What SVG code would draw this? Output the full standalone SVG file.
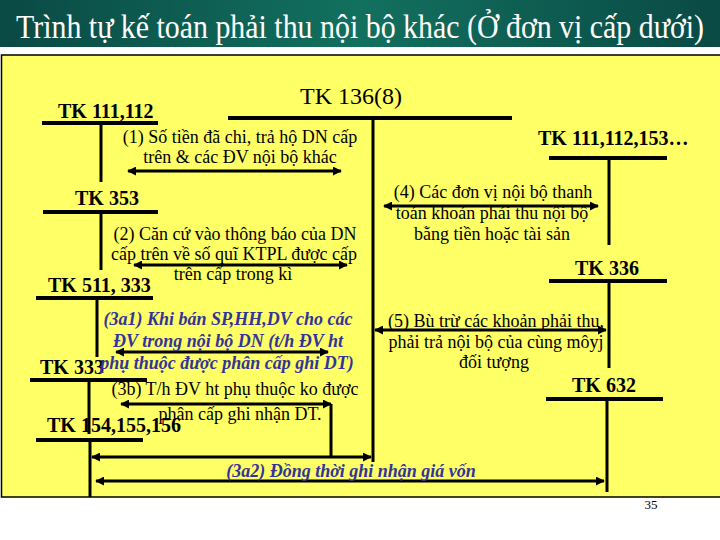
<svg xmlns="http://www.w3.org/2000/svg" width="720" height="540" viewBox="0 0 720 540">
<defs>
<linearGradient id="tb" x1="0" y1="0" x2="1" y2="0">
<stop offset="0" stop-color="#0a4a44"/>
<stop offset="0.5" stop-color="#12705f"/>
<stop offset="1" stop-color="#0a4a44"/>
</linearGradient>
<marker id="ah" viewBox="0 0 10 10" refX="9" refY="5" markerWidth="3" markerHeight="3" orient="auto-start-reverse" markerUnits="strokeWidth">
<path d="M0,0 L10,5 L0,10 z" fill="#000"/>
</marker>
<style>
.bar{stroke:#000;stroke-width:4;fill:none}
.vl{stroke:#000;stroke-width:3;fill:none}
.ar{stroke:#000;stroke-width:3;fill:none;marker-start:url(#ah);marker-end:url(#ah)}
text{font-family:'Liberation Serif','Times New Roman',serif}
.tk{font-weight:bold;font-size:20px;fill:#000}
.lb{font-size:18px;fill:#000;text-anchor:middle}
.it{font-size:18px;font-weight:bold;font-style:italic;fill:#333399;text-anchor:middle}
</style>
</defs>
<rect x="0" y="0" width="720" height="540" fill="#fff"/>
<rect x="0" y="0" width="720" height="47" fill="url(#tb)"/>
<text transform="translate(16,38) scale(0.8,1)" x="0" y="0" font-size="34" fill="#fff" textLength="860" lengthAdjust="spacingAndGlyphs">Trình tự kế toán phải thu nội bộ khác (Ở đơn vị cấp dưới)</text>
<rect x="1.5" y="55" width="722" height="442" fill="#ffff66" stroke="#000" stroke-width="1.5"/>

<g id="tk111">
<text class="tk" x="58" y="118">TK 111,112</text>
<line class="bar" x1="42" y1="123" x2="158" y2="123"/>
<line class="vl" x1="101" y1="123" x2="101" y2="182"/>
</g>
<g id="tk136">
<text x="300" y="104" font-size="24" fill="#000">TK 136(8)</text>
<line class="bar" x1="228" y1="118" x2="512" y2="118"/>
<line class="vl" x1="373" y1="118" x2="373" y2="462"/>
</g>
<g id="tk111b">
<text class="tk" x="538" y="145">TK 111,112,153…</text>
<line class="bar" x1="549" y1="158" x2="667" y2="158"/>
<line class="vl" x1="609" y1="158" x2="609" y2="245"/>
</g>
<g id="tk353">
<text class="tk" x="75" y="205">TK 353</text>
<line class="bar" x1="43" y1="212" x2="158" y2="212"/>
<line class="vl" x1="101" y1="212" x2="101" y2="270"/>
</g>
<g id="tk511">
<text class="tk" x="48" y="292">TK 511, 333</text>
<line class="bar" x1="36" y1="298" x2="153" y2="298"/>
<line class="vl" x1="97" y1="298" x2="97" y2="357"/>
</g>
<g id="tk333">
<text class="tk" x="40" y="374">TK 333</text>
<line class="bar" x1="30" y1="380" x2="147" y2="380"/>
<line class="vl" x1="89" y1="380" x2="89" y2="434"/>
</g>
<g id="tk154">
<text class="tk" x="47" y="432">TK 154,155,156</text>
<line class="bar" x1="36" y1="440" x2="143" y2="440"/>
<line class="vl" x1="90" y1="440" x2="90" y2="497"/>
</g>
<g id="tk336">
<text class="tk" x="575" y="275">TK 336</text>
<line class="bar" x1="549" y1="281" x2="667" y2="281"/>
<line class="vl" x1="609" y1="281" x2="609" y2="368"/>
</g>
<g id="tk632">
<text class="tk" x="572" y="392">TK 632</text>
<line class="bar" x1="546" y1="399" x2="663" y2="399"/>
<line class="vl" x1="607" y1="399" x2="607" y2="492"/>
</g>

<g id="connectors">
<line class="ar" x1="128" y1="171" x2="341" y2="171"/>
<line class="ar" x1="134" y1="265" x2="347" y2="265"/>
<line class="ar" x1="384" y1="206" x2="598" y2="206"/>
<line class="ar" x1="375" y1="330" x2="606" y2="330"/>
<line class="ar" x1="116" y1="352" x2="328" y2="352"/>
<line class="ar" x1="121" y1="404" x2="331" y2="404"/>
<line class="vl" x1="331" y1="404" x2="331" y2="457"/>
<line class="ar" x1="92" y1="457" x2="371" y2="457"/>
<line class="ar" x1="96" y1="481" x2="604" y2="481"/>
</g>

<g id="labels">
<text class="lb" x="240" y="143">(1) Số tiền đã chi, trả hộ DN cấp</text>
<text class="lb" x="240" y="163">trên &amp; các ĐV nội bộ khác</text>
<text class="lb" x="235" y="240">(2) Căn cứ vào thông báo của DN</text>
<text class="lb" x="234" y="260">cấp trên về số quĩ KTPL được cấp</text>
<text class="lb" x="233" y="280">trên cấp trong kì</text>
<text class="lb" x="493" y="198">(4) Các đơn vị nội bộ thanh</text>
<text class="lb" x="492" y="219">toán khoản phải thu nội bộ</text>
<text class="lb" x="492" y="240">bằng tiền hoặc tài sản</text>
<text class="lb" x="496" y="327">(5) Bù trừ các khoản phải thu,</text>
<text class="lb" x="496" y="348">phải trả nội bộ của cùng môyj</text>
<text class="lb" x="494" y="368">đối tượng</text>
<text class="it" x="228" y="325">(3a1) Khi bán SP,HH,DV cho các</text>
<text class="it" x="228" y="347">ĐV trong nội bộ DN (t/h ĐV ht</text>
<text class="it" x="227" y="369">phụ thuộc được phân cấp ghi DT)</text>
<text class="lb" x="235" y="395">(3b) T/h ĐV ht phụ thuộc ko được</text>
<text class="lb" x="240" y="420">phân cấp ghi nhận DT.</text>
<text class="it" x="351" y="477">(3a2) Đồng thời ghi nhận giá vốn</text>
</g>
<text x="651" y="509" font-size="13" fill="#000" text-anchor="middle">35</text>
</svg>
